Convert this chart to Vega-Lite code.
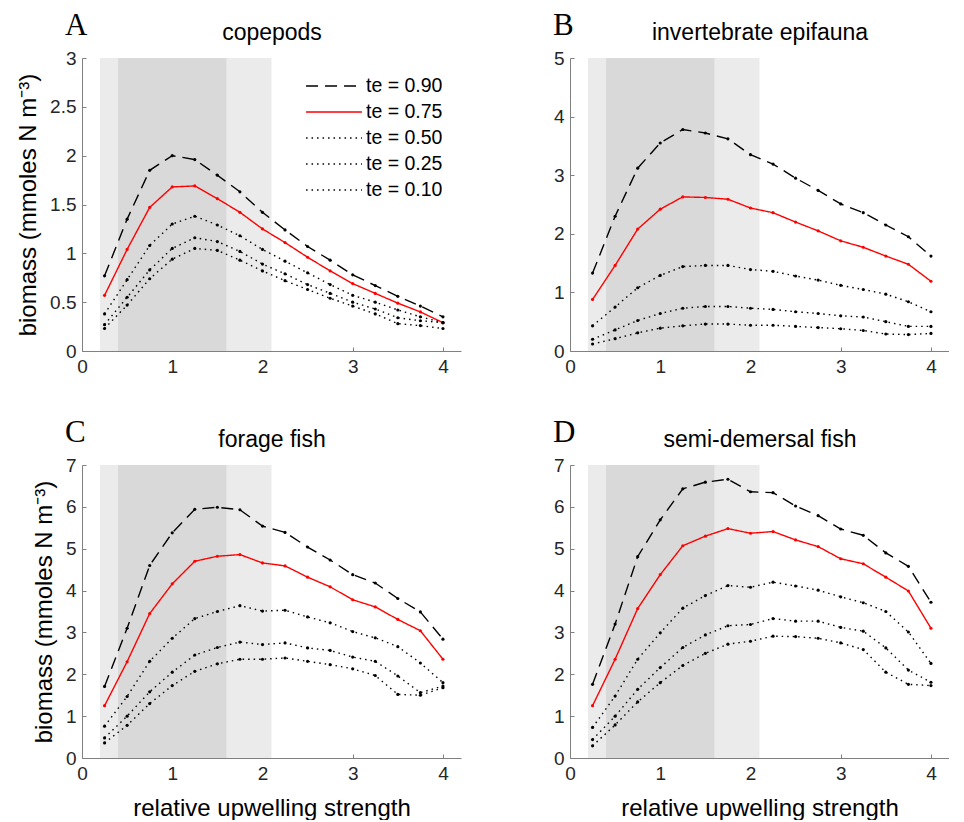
{
  "$schema": "https://vega.github.io/schema/vega-lite/v6.json",
  "padding": {"left": 16, "top": 10, "right": 0, "bottom": 0},
  "background": "white",
  "datasets": {
    "curves": [
      {"p":"A","te":"0.90","x":0.25,"y":0.77},{"p":"A","te":"0.90","x":0.5,"y":1.35},{"p":"A","te":"0.90","x":0.75,"y":1.85},{"p":"A","te":"0.90","x":1,"y":2.0},{"p":"A","te":"0.90","x":1.25,"y":1.96},{"p":"A","te":"0.90","x":1.5,"y":1.8},{"p":"A","te":"0.90","x":1.75,"y":1.63},{"p":"A","te":"0.90","x":2,"y":1.42},{"p":"A","te":"0.90","x":2.25,"y":1.24},{"p":"A","te":"0.90","x":2.5,"y":1.07},{"p":"A","te":"0.90","x":2.75,"y":0.93},{"p":"A","te":"0.90","x":3,"y":0.78},{"p":"A","te":"0.90","x":3.25,"y":0.67},{"p":"A","te":"0.90","x":3.5,"y":0.56},{"p":"A","te":"0.90","x":3.75,"y":0.46},{"p":"A","te":"0.90","x":4,"y":0.35},
      {"p":"A","te":"0.75","x":0.25,"y":0.57},{"p":"A","te":"0.75","x":0.5,"y":1.04},{"p":"A","te":"0.75","x":0.75,"y":1.47},{"p":"A","te":"0.75","x":1,"y":1.68},{"p":"A","te":"0.75","x":1.25,"y":1.69},{"p":"A","te":"0.75","x":1.5,"y":1.56},{"p":"A","te":"0.75","x":1.75,"y":1.42},{"p":"A","te":"0.75","x":2,"y":1.25},{"p":"A","te":"0.75","x":2.25,"y":1.11},{"p":"A","te":"0.75","x":2.5,"y":0.96},{"p":"A","te":"0.75","x":2.75,"y":0.82},{"p":"A","te":"0.75","x":3,"y":0.69},{"p":"A","te":"0.75","x":3.25,"y":0.59},{"p":"A","te":"0.75","x":3.5,"y":0.49},{"p":"A","te":"0.75","x":3.75,"y":0.4},{"p":"A","te":"0.75","x":4,"y":0.29},
      {"p":"A","te":"0.50","x":0.25,"y":0.38},{"p":"A","te":"0.50","x":0.5,"y":0.73},{"p":"A","te":"0.50","x":0.75,"y":1.08},{"p":"A","te":"0.50","x":1,"y":1.3},{"p":"A","te":"0.50","x":1.25,"y":1.38},{"p":"A","te":"0.50","x":1.5,"y":1.29},{"p":"A","te":"0.50","x":1.75,"y":1.18},{"p":"A","te":"0.50","x":2,"y":1.04},{"p":"A","te":"0.50","x":2.25,"y":0.92},{"p":"A","te":"0.50","x":2.5,"y":0.8},{"p":"A","te":"0.50","x":2.75,"y":0.68},{"p":"A","te":"0.50","x":3,"y":0.57},{"p":"A","te":"0.50","x":3.25,"y":0.5},{"p":"A","te":"0.50","x":3.5,"y":0.42},{"p":"A","te":"0.50","x":3.75,"y":0.35},{"p":"A","te":"0.50","x":4,"y":0.29},
      {"p":"A","te":"0.25","x":0.25,"y":0.27},{"p":"A","te":"0.25","x":0.5,"y":0.55},{"p":"A","te":"0.25","x":0.75,"y":0.83},{"p":"A","te":"0.25","x":1,"y":1.05},{"p":"A","te":"0.25","x":1.25,"y":1.16},{"p":"A","te":"0.25","x":1.5,"y":1.12},{"p":"A","te":"0.25","x":1.75,"y":1.02},{"p":"A","te":"0.25","x":2,"y":0.89},{"p":"A","te":"0.25","x":2.25,"y":0.79},{"p":"A","te":"0.25","x":2.5,"y":0.68},{"p":"A","te":"0.25","x":2.75,"y":0.59},{"p":"A","te":"0.25","x":3,"y":0.5},{"p":"A","te":"0.25","x":3.25,"y":0.43},{"p":"A","te":"0.25","x":3.5,"y":0.34},{"p":"A","te":"0.25","x":3.75,"y":0.31},{"p":"A","te":"0.25","x":4,"y":0.29},
      {"p":"A","te":"0.10","x":0.25,"y":0.23},{"p":"A","te":"0.10","x":0.5,"y":0.47},{"p":"A","te":"0.10","x":0.75,"y":0.74},{"p":"A","te":"0.10","x":1,"y":0.94},{"p":"A","te":"0.10","x":1.25,"y":1.05},{"p":"A","te":"0.10","x":1.5,"y":1.03},{"p":"A","te":"0.10","x":1.75,"y":0.93},{"p":"A","te":"0.10","x":2,"y":0.82},{"p":"A","te":"0.10","x":2.25,"y":0.72},{"p":"A","te":"0.10","x":2.5,"y":0.63},{"p":"A","te":"0.10","x":2.75,"y":0.54},{"p":"A","te":"0.10","x":3,"y":0.46},{"p":"A","te":"0.10","x":3.25,"y":0.38},{"p":"A","te":"0.10","x":3.5,"y":0.28},{"p":"A","te":"0.10","x":3.75,"y":0.26},{"p":"A","te":"0.10","x":4,"y":0.23},

      {"p":"B","te":"0.90","x":0.25,"y":1.33},{"p":"B","te":"0.90","x":0.5,"y":2.3},{"p":"B","te":"0.90","x":0.75,"y":3.12},{"p":"B","te":"0.90","x":1,"y":3.55},{"p":"B","te":"0.90","x":1.25,"y":3.78},{"p":"B","te":"0.90","x":1.5,"y":3.72},{"p":"B","te":"0.90","x":1.75,"y":3.62},{"p":"B","te":"0.90","x":2,"y":3.35},{"p":"B","te":"0.90","x":2.25,"y":3.19},{"p":"B","te":"0.90","x":2.5,"y":2.95},{"p":"B","te":"0.90","x":2.75,"y":2.74},{"p":"B","te":"0.90","x":3,"y":2.51},{"p":"B","te":"0.90","x":3.25,"y":2.36},{"p":"B","te":"0.90","x":3.5,"y":2.15},{"p":"B","te":"0.90","x":3.75,"y":1.95},{"p":"B","te":"0.90","x":4,"y":1.62},
      {"p":"B","te":"0.75","x":0.25,"y":0.88},{"p":"B","te":"0.75","x":0.5,"y":1.46},{"p":"B","te":"0.75","x":0.75,"y":2.08},{"p":"B","te":"0.75","x":1,"y":2.42},{"p":"B","te":"0.75","x":1.25,"y":2.63},{"p":"B","te":"0.75","x":1.5,"y":2.62},{"p":"B","te":"0.75","x":1.75,"y":2.59},{"p":"B","te":"0.75","x":2,"y":2.44},{"p":"B","te":"0.75","x":2.25,"y":2.36},{"p":"B","te":"0.75","x":2.5,"y":2.2},{"p":"B","te":"0.75","x":2.75,"y":2.05},{"p":"B","te":"0.75","x":3,"y":1.88},{"p":"B","te":"0.75","x":3.25,"y":1.77},{"p":"B","te":"0.75","x":3.5,"y":1.62},{"p":"B","te":"0.75","x":3.75,"y":1.48},{"p":"B","te":"0.75","x":4,"y":1.19},
      {"p":"B","te":"0.50","x":0.25,"y":0.43},{"p":"B","te":"0.50","x":0.5,"y":0.75},{"p":"B","te":"0.50","x":0.75,"y":1.08},{"p":"B","te":"0.50","x":1,"y":1.29},{"p":"B","te":"0.50","x":1.25,"y":1.44},{"p":"B","te":"0.50","x":1.5,"y":1.46},{"p":"B","te":"0.50","x":1.75,"y":1.46},{"p":"B","te":"0.50","x":2,"y":1.39},{"p":"B","te":"0.50","x":2.25,"y":1.36},{"p":"B","te":"0.50","x":2.5,"y":1.28},{"p":"B","te":"0.50","x":2.75,"y":1.21},{"p":"B","te":"0.50","x":3,"y":1.12},{"p":"B","te":"0.50","x":3.25,"y":1.05},{"p":"B","te":"0.50","x":3.5,"y":0.97},{"p":"B","te":"0.50","x":3.75,"y":0.84},{"p":"B","te":"0.50","x":4,"y":0.67},
      {"p":"B","te":"0.25","x":0.25,"y":0.2},{"p":"B","te":"0.25","x":0.5,"y":0.36},{"p":"B","te":"0.25","x":0.75,"y":0.52},{"p":"B","te":"0.25","x":1,"y":0.64},{"p":"B","te":"0.25","x":1.25,"y":0.73},{"p":"B","te":"0.25","x":1.5,"y":0.76},{"p":"B","te":"0.25","x":1.75,"y":0.76},{"p":"B","te":"0.25","x":2,"y":0.73},{"p":"B","te":"0.25","x":2.25,"y":0.71},{"p":"B","te":"0.25","x":2.5,"y":0.67},{"p":"B","te":"0.25","x":2.75,"y":0.64},{"p":"B","te":"0.25","x":3,"y":0.6},{"p":"B","te":"0.25","x":3.25,"y":0.58},{"p":"B","te":"0.25","x":3.5,"y":0.5},{"p":"B","te":"0.25","x":3.75,"y":0.42},{"p":"B","te":"0.25","x":4,"y":0.42},
      {"p":"B","te":"0.10","x":0.25,"y":0.12},{"p":"B","te":"0.10","x":0.5,"y":0.21},{"p":"B","te":"0.10","x":0.75,"y":0.31},{"p":"B","te":"0.10","x":1,"y":0.39},{"p":"B","te":"0.10","x":1.25,"y":0.43},{"p":"B","te":"0.10","x":1.5,"y":0.46},{"p":"B","te":"0.10","x":1.75,"y":0.46},{"p":"B","te":"0.10","x":2,"y":0.44},{"p":"B","te":"0.10","x":2.25,"y":0.44},{"p":"B","te":"0.10","x":2.5,"y":0.42},{"p":"B","te":"0.10","x":2.75,"y":0.4},{"p":"B","te":"0.10","x":3,"y":0.38},{"p":"B","te":"0.10","x":3.25,"y":0.35},{"p":"B","te":"0.10","x":3.5,"y":0.29},{"p":"B","te":"0.10","x":3.75,"y":0.28},{"p":"B","te":"0.10","x":4,"y":0.3},

      {"p":"C","te":"0.90","x":0.25,"y":1.71},{"p":"C","te":"0.90","x":0.5,"y":3.1},{"p":"C","te":"0.90","x":0.75,"y":4.6},{"p":"C","te":"0.90","x":1,"y":5.38},{"p":"C","te":"0.90","x":1.25,"y":5.94},{"p":"C","te":"0.90","x":1.5,"y":5.99},{"p":"C","te":"0.90","x":1.75,"y":5.93},{"p":"C","te":"0.90","x":2,"y":5.54},{"p":"C","te":"0.90","x":2.25,"y":5.39},{"p":"C","te":"0.90","x":2.5,"y":5.04},{"p":"C","te":"0.90","x":2.75,"y":4.73},{"p":"C","te":"0.90","x":3,"y":4.38},{"p":"C","te":"0.90","x":3.25,"y":4.18},{"p":"C","te":"0.90","x":3.5,"y":3.81},{"p":"C","te":"0.90","x":3.75,"y":3.49},{"p":"C","te":"0.90","x":4,"y":2.84},
      {"p":"C","te":"0.75","x":0.25,"y":1.25},{"p":"C","te":"0.75","x":0.5,"y":2.3},{"p":"C","te":"0.75","x":0.75,"y":3.45},{"p":"C","te":"0.75","x":1,"y":4.16},{"p":"C","te":"0.75","x":1.25,"y":4.7},{"p":"C","te":"0.75","x":1.5,"y":4.82},{"p":"C","te":"0.75","x":1.75,"y":4.86},{"p":"C","te":"0.75","x":2,"y":4.66},{"p":"C","te":"0.75","x":2.25,"y":4.59},{"p":"C","te":"0.75","x":2.5,"y":4.32},{"p":"C","te":"0.75","x":2.75,"y":4.09},{"p":"C","te":"0.75","x":3,"y":3.78},{"p":"C","te":"0.75","x":3.25,"y":3.61},{"p":"C","te":"0.75","x":3.5,"y":3.31},{"p":"C","te":"0.75","x":3.75,"y":3.04},{"p":"C","te":"0.75","x":4,"y":2.36},
      {"p":"C","te":"0.50","x":0.25,"y":0.76},{"p":"C","te":"0.50","x":0.5,"y":1.47},{"p":"C","te":"0.50","x":0.75,"y":2.31},{"p":"C","te":"0.50","x":1,"y":2.86},{"p":"C","te":"0.50","x":1.25,"y":3.33},{"p":"C","te":"0.50","x":1.5,"y":3.5},{"p":"C","te":"0.50","x":1.75,"y":3.64},{"p":"C","te":"0.50","x":2,"y":3.51},{"p":"C","te":"0.50","x":2.25,"y":3.53},{"p":"C","te":"0.50","x":2.5,"y":3.37},{"p":"C","te":"0.50","x":2.75,"y":3.23},{"p":"C","te":"0.50","x":3,"y":3.02},{"p":"C","te":"0.50","x":3.25,"y":2.87},{"p":"C","te":"0.50","x":3.5,"y":2.66},{"p":"C","te":"0.50","x":3.75,"y":2.27},{"p":"C","te":"0.50","x":4,"y":1.8},
      {"p":"C","te":"0.25","x":0.25,"y":0.48},{"p":"C","te":"0.25","x":0.5,"y":1.0},{"p":"C","te":"0.25","x":0.75,"y":1.58},{"p":"C","te":"0.25","x":1,"y":2.05},{"p":"C","te":"0.25","x":1.25,"y":2.46},{"p":"C","te":"0.25","x":1.5,"y":2.64},{"p":"C","te":"0.25","x":1.75,"y":2.77},{"p":"C","te":"0.25","x":2,"y":2.71},{"p":"C","te":"0.25","x":2.25,"y":2.75},{"p":"C","te":"0.25","x":2.5,"y":2.63},{"p":"C","te":"0.25","x":2.75,"y":2.57},{"p":"C","te":"0.25","x":3,"y":2.41},{"p":"C","te":"0.25","x":3.25,"y":2.31},{"p":"C","te":"0.25","x":3.5,"y":1.96},{"p":"C","te":"0.25","x":3.75,"y":1.56},{"p":"C","te":"0.25","x":4,"y":1.72},
      {"p":"C","te":"0.10","x":0.25,"y":0.36},{"p":"C","te":"0.10","x":0.5,"y":0.78},{"p":"C","te":"0.10","x":0.75,"y":1.3},{"p":"C","te":"0.10","x":1,"y":1.73},{"p":"C","te":"0.10","x":1.25,"y":2.07},{"p":"C","te":"0.10","x":1.5,"y":2.25},{"p":"C","te":"0.10","x":1.75,"y":2.36},{"p":"C","te":"0.10","x":2,"y":2.36},{"p":"C","te":"0.10","x":2.25,"y":2.39},{"p":"C","te":"0.10","x":2.5,"y":2.31},{"p":"C","te":"0.10","x":2.75,"y":2.23},{"p":"C","te":"0.10","x":3,"y":2.13},{"p":"C","te":"0.10","x":3.25,"y":1.97},{"p":"C","te":"0.10","x":3.5,"y":1.52},{"p":"C","te":"0.10","x":3.75,"y":1.5},{"p":"C","te":"0.10","x":4,"y":1.68},

      {"p":"D","te":"0.90","x":0.25,"y":1.76},{"p":"D","te":"0.90","x":0.5,"y":3.2},{"p":"D","te":"0.90","x":0.75,"y":4.81},{"p":"D","te":"0.90","x":1,"y":5.69},{"p":"D","te":"0.90","x":1.25,"y":6.43},{"p":"D","te":"0.90","x":1.5,"y":6.59},{"p":"D","te":"0.90","x":1.75,"y":6.66},{"p":"D","te":"0.90","x":2,"y":6.36},{"p":"D","te":"0.90","x":2.25,"y":6.34},{"p":"D","te":"0.90","x":2.5,"y":6.02},{"p":"D","te":"0.90","x":2.75,"y":5.79},{"p":"D","te":"0.90","x":3,"y":5.47},{"p":"D","te":"0.90","x":3.25,"y":5.32},{"p":"D","te":"0.90","x":3.5,"y":4.9},{"p":"D","te":"0.90","x":3.75,"y":4.58},{"p":"D","te":"0.90","x":4,"y":3.72},
      {"p":"D","te":"0.75","x":0.25,"y":1.25},{"p":"D","te":"0.75","x":0.5,"y":2.36},{"p":"D","te":"0.75","x":0.75,"y":3.57},{"p":"D","te":"0.75","x":1,"y":4.38},{"p":"D","te":"0.75","x":1.25,"y":5.07},{"p":"D","te":"0.75","x":1.5,"y":5.3},{"p":"D","te":"0.75","x":1.75,"y":5.48},{"p":"D","te":"0.75","x":2,"y":5.37},{"p":"D","te":"0.75","x":2.25,"y":5.41},{"p":"D","te":"0.75","x":2.5,"y":5.21},{"p":"D","te":"0.75","x":2.75,"y":5.05},{"p":"D","te":"0.75","x":3,"y":4.76},{"p":"D","te":"0.75","x":3.25,"y":4.64},{"p":"D","te":"0.75","x":3.5,"y":4.32},{"p":"D","te":"0.75","x":3.75,"y":3.99},{"p":"D","te":"0.75","x":4,"y":3.1},
      {"p":"D","te":"0.50","x":0.25,"y":0.73},{"p":"D","te":"0.50","x":0.5,"y":1.48},{"p":"D","te":"0.50","x":0.75,"y":2.36},{"p":"D","te":"0.50","x":1,"y":2.99},{"p":"D","te":"0.50","x":1.25,"y":3.58},{"p":"D","te":"0.50","x":1.5,"y":3.88},{"p":"D","te":"0.50","x":1.75,"y":4.12},{"p":"D","te":"0.50","x":2,"y":4.08},{"p":"D","te":"0.50","x":2.25,"y":4.2},{"p":"D","te":"0.50","x":2.5,"y":4.11},{"p":"D","te":"0.50","x":2.75,"y":4.01},{"p":"D","te":"0.50","x":3,"y":3.85},{"p":"D","te":"0.50","x":3.25,"y":3.71},{"p":"D","te":"0.50","x":3.5,"y":3.5},{"p":"D","te":"0.50","x":3.75,"y":3.01},{"p":"D","te":"0.50","x":4,"y":2.26},
      {"p":"D","te":"0.25","x":0.25,"y":0.44},{"p":"D","te":"0.25","x":0.5,"y":1.0},{"p":"D","te":"0.25","x":0.75,"y":1.64},{"p":"D","te":"0.25","x":1,"y":2.16},{"p":"D","te":"0.25","x":1.25,"y":2.64},{"p":"D","te":"0.25","x":1.5,"y":2.94},{"p":"D","te":"0.25","x":1.75,"y":3.16},{"p":"D","te":"0.25","x":2,"y":3.19},{"p":"D","te":"0.25","x":2.25,"y":3.33},{"p":"D","te":"0.25","x":2.5,"y":3.27},{"p":"D","te":"0.25","x":2.75,"y":3.27},{"p":"D","te":"0.25","x":3,"y":3.12},{"p":"D","te":"0.25","x":3.25,"y":3.03},{"p":"D","te":"0.25","x":3.5,"y":2.63},{"p":"D","te":"0.25","x":3.75,"y":2.1},{"p":"D","te":"0.25","x":4,"y":1.81},
      {"p":"D","te":"0.10","x":0.25,"y":0.29},{"p":"D","te":"0.10","x":0.5,"y":0.79},{"p":"D","te":"0.10","x":0.75,"y":1.34},{"p":"D","te":"0.10","x":1,"y":1.8},{"p":"D","te":"0.10","x":1.25,"y":2.21},{"p":"D","te":"0.10","x":1.5,"y":2.5},{"p":"D","te":"0.10","x":1.75,"y":2.72},{"p":"D","te":"0.10","x":2,"y":2.79},{"p":"D","te":"0.10","x":2.25,"y":2.91},{"p":"D","te":"0.10","x":2.5,"y":2.9},{"p":"D","te":"0.10","x":2.75,"y":2.86},{"p":"D","te":"0.10","x":3,"y":2.75},{"p":"D","te":"0.10","x":3.25,"y":2.59},{"p":"D","te":"0.10","x":3.5,"y":2.05},{"p":"D","te":"0.10","x":3.75,"y":1.76},{"p":"D","te":"0.10","x":4,"y":1.73}
    ]
  },
  "columns": 2,
  "spacing": {"column": 92, "row": 41},
  "resolve": {"scale": {"color": "independent", "strokeDash": "independent", "y": "independent"}},
  "concat": [
    {
      "width": 379, "height": 293,
      "title": {"text": "A", "anchor": "start", "frame": "group", "dx": -17, "offset": -45, "font": "Liberation Serif", "fontSize": 31, "fontWeight": "normal", "baseline": "alphabetic", "color": "#000000"},
      "resolve": {"axis": {"x": "independent"}},
      "layer": [
        {"data": {"values": [{"lo": 0.2, "hi": 2.1}]}, "mark": {"type": "rect", "color": "#ebebeb"},
         "encoding": {"x": {"field": "lo", "type": "quantitative", "scale": {"domain": [0, 4.2], "nice": false}, "axis": {"orient": "top", "title": "copepods", "labels": false, "ticks": false, "domain": false, "titlePadding": 14, "titleFontSize": 23}}, "x2": {"field": "hi"}}},
        {"data": {"values": [{"lo": 0.4, "hi": 1.6}]}, "mark": {"type": "rect", "color": "#d9d9d9"},
         "encoding": {"x": {"field": "lo", "type": "quantitative", "axis": null}, "x2": {"field": "hi"}}},
        {"data": {"name": "curves"}, "transform": [{"filter": "datum.p == 'A'"}],
         "mark": {"type": "line", "strokeWidth": 1.4, "point": {"filled": true, "size": 10}},
         "encoding": {
           "x": {"field": "x", "type": "quantitative", "axis": {"orient": "bottom", "title": null, "values": [0, 1, 2, 3, 4]}},
           "y": {"field": "y", "type": "quantitative", "scale": {"domain": [0, 3], "nice": false}, "axis": {"title": "biomass (mmoles N m⁻³)", "values": [0, 0.5, 1, 1.5, 2, 2.5, 3], "format": "~g"}},
           "color": {"field": "te", "type": "nominal", "scale": {"domain": ["0.90", "0.75", "0.50", "0.25", "0.10"], "range": ["#000000", "#ff0000", "#000000", "#000000", "#000000"]},
                     "legend": {"title": null, "orient": "none", "legendX": 240, "legendY": 16, "symbolType": "M-2.5,0H2.5", "symbolSize": 500, "symbolStrokeWidth": 1.5, "labelFontSize": 19.5, "labelColor": "#000000", "labelExpr": "'te = ' + datum.label", "rowPadding": 4, "labelOffset": 20}},
           "strokeDash": {"field": "te", "type": "nominal", "scale": {"domain": ["0.90", "0.75", "0.50", "0.25", "0.10"], "range": [[12, 7], [1, 0], [1.5, 4], [1.5, 4], [1.5, 4]]},
                     "legend": {"title": null, "orient": "none", "legendX": 240, "legendY": 16, "symbolType": "M-2.5,0H2.5", "symbolSize": 500, "symbolStrokeWidth": 1.5, "labelFontSize": 19.5, "labelColor": "#000000", "labelExpr": "'te = ' + datum.label", "rowPadding": 4, "labelOffset": 20}}
         }}
      ]
    },
    {
      "width": 379, "height": 293,
      "title": {"text": "B", "anchor": "start", "frame": "group", "dx": -17, "offset": -45, "font": "Liberation Serif", "fontSize": 31, "fontWeight": "normal", "baseline": "alphabetic", "color": "#000000"},
      "resolve": {"axis": {"x": "independent"}},
      "layer": [
        {"data": {"values": [{"lo": 0.2, "hi": 2.1}]}, "mark": {"type": "rect", "color": "#ebebeb"},
         "encoding": {"x": {"field": "lo", "type": "quantitative", "scale": {"domain": [0, 4.2], "nice": false}, "axis": {"orient": "top", "title": "invertebrate epifauna", "labels": false, "ticks": false, "domain": false, "titlePadding": 14, "titleFontSize": 23}}, "x2": {"field": "hi"}}},
        {"data": {"values": [{"lo": 0.4, "hi": 1.6}]}, "mark": {"type": "rect", "color": "#d9d9d9"},
         "encoding": {"x": {"field": "lo", "type": "quantitative", "axis": null}, "x2": {"field": "hi"}}},
        {"data": {"name": "curves"}, "transform": [{"filter": "datum.p == 'B'"}],
         "mark": {"type": "line", "strokeWidth": 1.4, "point": {"filled": true, "size": 10}},
         "encoding": {
           "x": {"field": "x", "type": "quantitative", "axis": {"orient": "bottom", "title": null, "values": [0, 1, 2, 3, 4]}},
           "y": {"field": "y", "type": "quantitative", "scale": {"domain": [0, 5], "nice": false}, "axis": {"title": null, "values": [0, 1, 2, 3, 4, 5], "format": "~g"}},
           "color": {"field": "te", "type": "nominal", "scale": {"domain": ["0.90", "0.75", "0.50", "0.25", "0.10"], "range": ["#000000", "#ff0000", "#000000", "#000000", "#000000"]}, "legend": null},
           "strokeDash": {"field": "te", "type": "nominal", "scale": {"domain": ["0.90", "0.75", "0.50", "0.25", "0.10"], "range": [[12, 7], [1, 0], [1.5, 4], [1.5, 4], [1.5, 4]]}, "legend": null}
         }}
      ]
    },
    {
      "width": 379, "height": 293,
      "title": {"text": "C", "anchor": "start", "frame": "group", "dx": -17, "offset": -45, "font": "Liberation Serif", "fontSize": 31, "fontWeight": "normal", "baseline": "alphabetic", "color": "#000000"},
      "resolve": {"axis": {"x": "independent"}},
      "layer": [
        {"data": {"values": [{"lo": 0.2, "hi": 2.1}]}, "mark": {"type": "rect", "color": "#ebebeb"},
         "encoding": {"x": {"field": "lo", "type": "quantitative", "scale": {"domain": [0, 4.2], "nice": false}, "axis": {"orient": "top", "title": "forage fish", "labels": false, "ticks": false, "domain": false, "titlePadding": 14, "titleFontSize": 23}}, "x2": {"field": "hi"}}},
        {"data": {"values": [{"lo": 0.4, "hi": 1.6}]}, "mark": {"type": "rect", "color": "#d9d9d9"},
         "encoding": {"x": {"field": "lo", "type": "quantitative", "axis": null}, "x2": {"field": "hi"}}},
        {"data": {"name": "curves"}, "transform": [{"filter": "datum.p == 'C'"}],
         "mark": {"type": "line", "strokeWidth": 1.4, "point": {"filled": true, "size": 10}},
         "encoding": {
           "x": {"field": "x", "type": "quantitative", "axis": {"orient": "bottom", "title": "relative upwelling strength", "values": [0, 1, 2, 3, 4], "titlePadding": 13}},
           "y": {"field": "y", "type": "quantitative", "scale": {"domain": [0, 7], "nice": false}, "axis": {"title": "biomass (mmoles N m⁻³)", "values": [0, 1, 2, 3, 4, 5, 6, 7], "format": "~g"}},
           "color": {"field": "te", "type": "nominal", "scale": {"domain": ["0.90", "0.75", "0.50", "0.25", "0.10"], "range": ["#000000", "#ff0000", "#000000", "#000000", "#000000"]}, "legend": null},
           "strokeDash": {"field": "te", "type": "nominal", "scale": {"domain": ["0.90", "0.75", "0.50", "0.25", "0.10"], "range": [[12, 7], [1, 0], [1.5, 4], [1.5, 4], [1.5, 4]]}, "legend": null}
         }}
      ]
    },
    {
      "width": 379, "height": 293,
      "title": {"text": "D", "anchor": "start", "frame": "group", "dx": -17, "offset": -45, "font": "Liberation Serif", "fontSize": 31, "fontWeight": "normal", "baseline": "alphabetic", "color": "#000000"},
      "resolve": {"axis": {"x": "independent"}},
      "layer": [
        {"data": {"values": [{"lo": 0.2, "hi": 2.1}]}, "mark": {"type": "rect", "color": "#ebebeb"},
         "encoding": {"x": {"field": "lo", "type": "quantitative", "scale": {"domain": [0, 4.2], "nice": false}, "axis": {"orient": "top", "title": "semi-demersal fish", "labels": false, "ticks": false, "domain": false, "titlePadding": 14, "titleFontSize": 23}}, "x2": {"field": "hi"}}},
        {"data": {"values": [{"lo": 0.4, "hi": 1.6}]}, "mark": {"type": "rect", "color": "#d9d9d9"},
         "encoding": {"x": {"field": "lo", "type": "quantitative", "axis": null}, "x2": {"field": "hi"}}},
        {"data": {"name": "curves"}, "transform": [{"filter": "datum.p == 'D'"}],
         "mark": {"type": "line", "strokeWidth": 1.4, "point": {"filled": true, "size": 10}},
         "encoding": {
           "x": {"field": "x", "type": "quantitative", "axis": {"orient": "bottom", "title": "relative upwelling strength", "values": [0, 1, 2, 3, 4], "titlePadding": 13}},
           "y": {"field": "y", "type": "quantitative", "scale": {"domain": [0, 7], "nice": false}, "axis": {"title": null, "values": [0, 1, 2, 3, 4, 5, 6, 7], "format": "~g"}},
           "color": {"field": "te", "type": "nominal", "scale": {"domain": ["0.90", "0.75", "0.50", "0.25", "0.10"], "range": ["#000000", "#ff0000", "#000000", "#000000", "#000000"]}, "legend": null},
           "strokeDash": {"field": "te", "type": "nominal", "scale": {"domain": ["0.90", "0.75", "0.50", "0.25", "0.10"], "range": [[12, 7], [1, 0], [1.5, 4], [1.5, 4], [1.5, 4]]}, "legend": null}
         }}
      ]
    }
  ],
  "config": {
    "font": "Liberation Sans",
    "view": {"stroke": null},
    "axis": {"grid": false, "domainColor": "#808080", "tickColor": "#808080", "tickSize": -4, "labelFontSize": 19, "labelColor": "#262626", "labelPadding": 10, "labelFlush": false, "labelOverlap": false, "titleFontSize": 24, "titleFontWeight": "normal", "titleColor": "#000000"},
    "axisX": {"titlePadding": 8},
    "axisY": {"titlePadding": 9},
    "legend": {"padding": 0}
  }
}
